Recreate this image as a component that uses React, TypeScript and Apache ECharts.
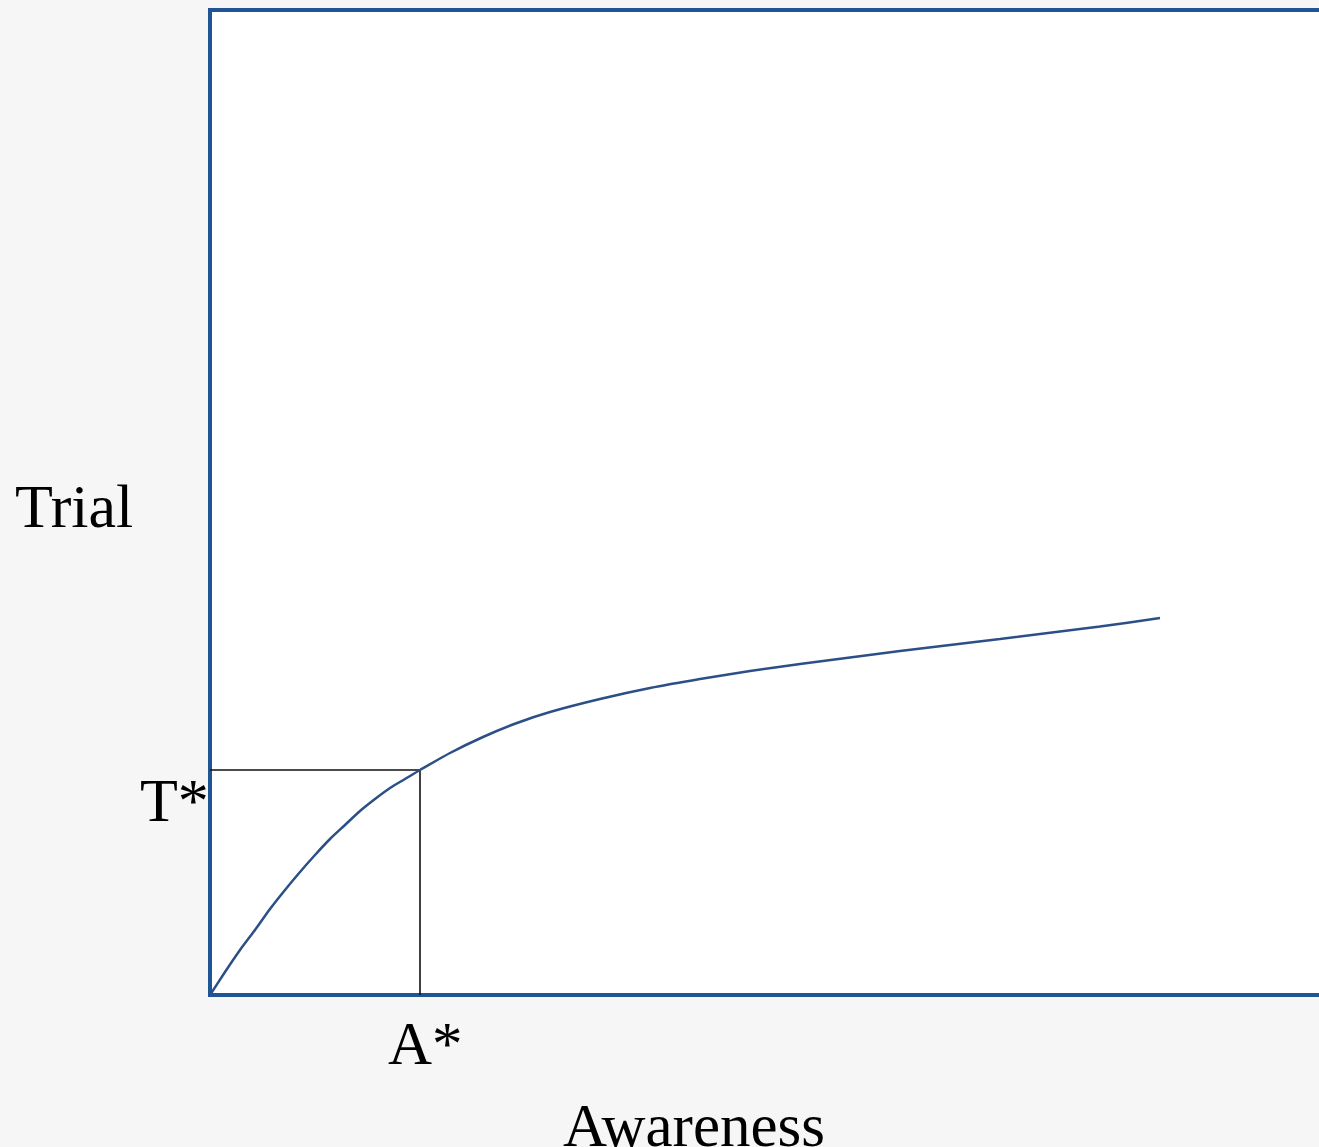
import React, { useEffect, useRef } from "react";
import * as echarts from "echarts";

const curveX = [0, 1.5, 3, 4.5, 6, 7.5, 9, 10.5, 12, 13.5, 15, 16.5, 18, 19.5, 21, 24, 27.3, 30.7, 34, 39, 44, 49, 54, 59, 69, 79, 89, 95];
const curveY = [0, 2.3, 4.5, 6.5, 8.6, 10.5, 12.3, 14.0, 15.6, 17.0, 18.4, 19.6, 20.7, 21.6, 22.5, 24.2, 25.8, 27.2, 28.3, 29.6, 30.7, 31.6, 32.4, 33.1, 34.4, 35.6, 36.85, 37.7];
const aStar = 21.0;
const tStar = 22.5;
const xLabel = "Awareness";
const yLabel = "Trial";
const aLabel = "A*";
const tLabel = "T*";

export default function App() {
  const ref = useRef<HTMLDivElement>(null);
  useEffect(() => {
    const chart = echarts.init(ref.current!, null, { renderer: "svg" });
    const font = "'Liberation Serif', 'DejaVu Serif', serif";
    chart.setOption({
      animation: false,
      backgroundColor: "#f6f6f6",
      grid: {
        left: 210,
        top: 10,
        width: 1200,
        height: 985,
        show: true,
        backgroundColor: "#ffffff",
        borderColor: "#1f5594",
        borderWidth: 4,
      },
      xAxis: {
        type: "value",
        min: 0,
        max: 120,
        axisLine: { show: false },
        axisTick: { show: false },
        axisLabel: { show: false },
        splitLine: { show: false },
      },
      yAxis: {
        type: "value",
        min: 0,
        max: 98.5,
        axisLine: { show: false },
        axisTick: { show: false },
        axisLabel: { show: false },
        splitLine: { show: false },
      },
      series: [
        {
          type: "line",
          data: [
            [0, tStar],
            [aStar, tStar],
            [aStar, 0],
          ],
          symbol: "none",
          lineStyle: { color: "#111111", width: 1.6 },
          z: 2,
        },
        {
          type: "line",
          data: curveX.map((x, i) => [x, curveY[i]]),
          smooth: 0.25,
          symbol: "none",
          lineStyle: { color: "#2b4f86", width: 2.5 },
          z: 3,
        },
      ],
      graphic: [
        {
          type: "text",
          left: 15,
          top: 475,
          style: { text: yLabel, font: `62px ${font}`, fill: "#000" },
        },
        {
          type: "text",
          left: 140,
          top: 769,
          style: { text: tLabel, font: `62px ${font}`, fill: "#000" },
        },
        {
          type: "text",
          left: 388,
          top: 1013,
          style: { text: aLabel, font: `61px ${font}`, fill: "#000" },
        },
        {
          type: "text",
          left: 563,
          top: 1095,
          style: { text: xLabel, font: `61px ${font}`, fill: "#000", lineHeight: 40 },
        },
      ],
    });
    return () => chart.dispose();
  }, []);
  return (
    <div
      style={{
        position: "fixed",
        left: 0,
        top: 0,
        width: 1319,
        height: 1147,
        overflow: "hidden",
      }}
    >
      <div ref={ref} style={{ width: 1500, height: 1147 }} />
    </div>
  );
}
